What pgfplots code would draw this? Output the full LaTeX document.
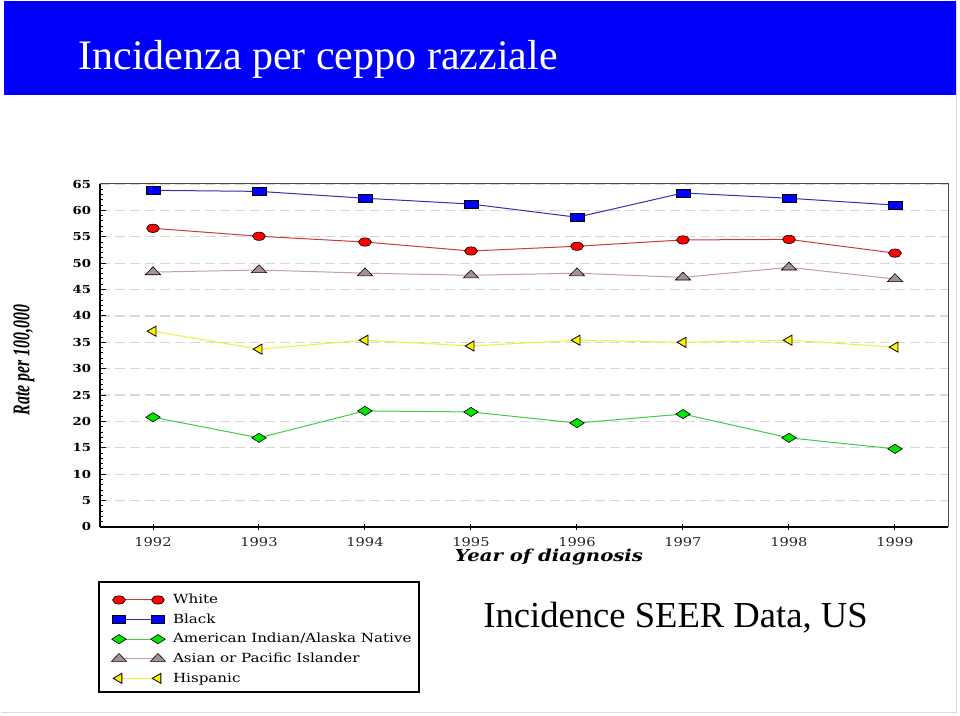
\documentclass[border=0pt]{standalone}
\usepackage{pgfplots}
\pgfplotsset{compat=1.18}
\usepackage{fontspec}
\setmainfont{Liberation Serif}
\newfontfamily\tickfont[FakeStretch=1.2]{DejaVu Serif}
\newfontfamily\ylabfont[FakeStretch=0.66]{Liberation Serif}

\definecolor{bannerblue}{RGB}{0,0,250}
\definecolor{redline}{RGB}{200,60,60}
\definecolor{blueline}{RGB}{50,50,170}
\definecolor{greenline}{RGB}{70,200,70}
\definecolor{greenfill}{RGB}{0,230,0}
\definecolor{asianline}{RGB}{195,160,160}
\definecolor{asianfill}{RGB}{170,145,145}
\definecolor{yellowline}{RGB}{240,240,60}
\definecolor{gridgray}{RGB}{215,215,215}

\begin{document}
\begin{tikzpicture}
% page 960x716 px at 0.5pt per px
\fill[white] (0,0) rectangle (480pt,358pt);
\path[use as bounding box] (0,0) rectangle (480pt,358pt);
\draw[black!15, line width=0.5pt] (0.5pt,1.5pt) -- (478pt,1.5pt) -- (478pt,357.5pt);
\fill[bannerblue] (2pt,357.5pt) rectangle (478pt,310.5pt);
\node[anchor=base west, inner sep=0, white] at (39pt,323pt)
  {\fontsize{21}{24}\selectfont Incidenza per ceppo razziale};

\begin{axis}[
    at={(50pt,94.5pt)}, anchor=south west,
    scale only axis, width=424pt, height=171.5pt,
    xmin=1991.5, xmax=1999.5, ymin=0, ymax=65,
    axis lines=left,
    axis line style={-, line width=1pt, black},
    xtick={1992,...,1999},
    ytick={0,5,...,65},
    minor y tick num=4,
    tick style={black, line width=0.5pt},
    ytick align=inside, xtick align=center,
    major tick length=3pt, minor tick length=1.5pt,
    /pgf/number format/1000 sep={},
    /pgf/number format/assume math mode=true,
    yticklabel style={font=\tickfont\bfseries\fontsize{5.5}{6}\selectfont, xshift=-1pt},
    xticklabel style={font=\tickfont\fontsize{6.1}{7}\selectfont, black!85, yshift=0pt},
    ymajorgrids,
    major grid style={gridgray, dash pattern=on 5pt off 2.5pt, line width=0.6pt},
    legend style={at={(-0.0024,-0.1603)}, anchor=north west,
        draw=none, fill=none, inner xsep=6.5pt, inner ysep=4.5pt,
        font=\tickfont\fontsize{6.3}{7}\selectfont,
        nodes={text height=5pt, text depth=1.2pt, inner sep=1.2pt},
        row sep=1.2pt,
        /tikz/every odd column/.append style={column sep=2.5pt}},
    legend cell align=left,
    legend image code/.code={\draw[mark repeat=2,mark phase=1,#1]
        plot coordinates {(0pt,0pt) (9.75pt,0pt) (19.5pt,0pt)};},
    clip=false,
]
\addplot[redline, line width=0.5pt, mark=*, mark size=3.2pt,
    mark options={fill=red, draw=black, line width=0.3pt, yscale=0.65}] coordinates {
    (1992,56.6) (1993,55.1) (1994,54.0) (1995,52.3)
    (1996,53.2) (1997,54.4) (1998,54.5) (1999,51.9)
};
\addplot[blueline, line width=0.5pt, mark=square*, mark size=3.4pt,
    mark options={fill=blue, draw=black, line width=0.3pt, yscale=0.6}] coordinates {
    (1992,63.8) (1993,63.6) (1994,62.3) (1995,61.2)
    (1996,58.7) (1997,63.3) (1998,62.3) (1999,61.0)
};
\addplot[greenline, line width=0.5pt, mark=diamond*, mark size=2.3pt,
    mark options={fill=greenfill, draw=black, line width=0.3pt, xscale=2.1}] coordinates {
    (1992,20.8) (1993,16.9) (1994,22.0) (1995,21.8)
    (1996,19.7) (1997,21.4) (1998,16.9) (1999,14.8)
};
\addplot[asianline, line width=0.5pt, mark=triangle*, mark size=4.4pt,
    mark options={fill=asianfill, draw=black, line width=0.3pt, yscale=0.6}] coordinates {
    (1992,48.3) (1993,48.7) (1994,48.1) (1995,47.7)
    (1996,48.1) (1997,47.3) (1998,49.2) (1999,47.0)
};
\addplot[yellowline, line width=0.5pt, mark=triangle*, mark size=2.9pt,
    mark options={fill=yellow, draw=black, line width=0.4pt, rotate=90}] coordinates {
    (1992,37.1) (1993,33.7) (1994,35.4) (1995,34.3)
    (1996,35.4) (1997,35.0) (1998,35.4) (1999,34.1)
};
\legend{White, Black, American Indian/Alaska Native, Asian or Pacific Islander, Hispanic}
\draw[black!70, line width=0.5pt] (rel axis cs:0,1) -- (rel axis cs:1,1) -- (rel axis cs:1,0);
\end{axis}

% legend frame
\draw[black, line width=1pt] (49.5pt,67pt) rectangle (209.5pt,12pt);

\node[anchor=base, inner sep=0] at (274.5pt,77pt)
  {\tickfont\bfseries\itshape\fontsize{8.2}{9}\selectfont Year of diagnosis};
\node[rotate=90, inner sep=0] at (12pt,178pt)
  {\ylabfont\bfseries\itshape\fontsize{12}{14}\selectfont Rate per 100,000};
\node[anchor=base west, inner sep=0] at (241.5pt,44pt)
  {\fontsize{18.3}{22}\selectfont Incidence SEER Data, US};
\end{tikzpicture}
\end{document}
